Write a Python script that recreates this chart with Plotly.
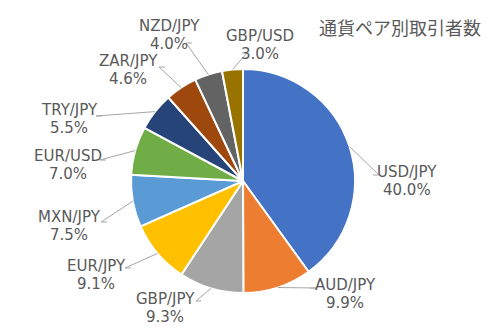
import math
import plotly.graph_objects as go

# Currency pairs and share of traders (%)
pairs = ["USD/JPY", "AUD/JPY", "GBP/JPY", "EUR/JPY", "MXN/JPY",
         "EUR/USD", "TRY/JPY", "ZAR/JPY", "NZD/JPY", "GBP/USD"]
shares = [40.0, 9.9, 9.3, 9.1, 7.5, 7.0, 5.5, 4.6, 4.0, 3.0]
colors = ["#4472C4", "#ED7D31", "#A5A5A5", "#FFC000", "#5B9BD5",
          "#70AD47", "#264478", "#9E480E", "#636363", "#997300"]
title_text = "通貨ペア別取引者数"

W, H = 486, 326
CX, CY, R = 243, 181, 112          # pie centre and radius in pixels

# Label placement (pixel centre of the two-line label) and leader end point
label_pos = [(407, 181), (345, 294), (165, 308), (96, 275), (69, 226),
             (68, 165), (69, 119), (128, 70), (169, 35), (260, 45)]
leader_end = [(373, 175), (310, 288), (201, 301), (131, 268), (107, 222),
              (106, 160), (102, 116), (165, 67), (192, 43), (242, 53)]

TEXT = "#595959"
LEADER = "#A6A6A6"
LINE_GAP = 17.5                     # distance between the two label lines


def px(x):
    return x / W


def py(y):
    return 1 - y / H


fig = go.Figure(go.Pie(
    labels=pairs,
    values=shares,
    sort=False,
    direction="clockwise",
    rotation=0,
    marker=dict(colors=colors, line=dict(color="white", width=2)),
    textinfo="none",
    hoverinfo="label+percent",
    domain=dict(x=[px(CX - R), px(CX + R)], y=[py(CY + R), py(CY - R)]),
    showlegend=False,
))

annotations = []
shapes = []
total = sum(shares)
cum = 0.0
for name, val, (lx, ly), (ex, ey) in zip(pairs, shares, label_pos, leader_end):
    mid = (cum + val / 2) / total * 2 * math.pi
    cum += val
    sx = CX + R * math.sin(mid)
    sy = CY - R * math.cos(mid)
    # short horizontal run out of the label, then a straight line to the slice
    step = 5 if abs(ex - sx) < 12 else 6
    elbow = (ex - step, ey) if ex > lx else (ex + step, ey)
    path = (f"M {px(sx)},{py(sy)} L {px(elbow[0])},{py(elbow[1])} "
            f"L {px(ex)},{py(ey)}")
    shapes.append(dict(type="path", xref="paper", yref="paper", path=path,
                       line=dict(color=LEADER, width=1)))
    for text, dy in ((name, -LINE_GAP / 2), (f"{val:.1f}%", LINE_GAP / 2)):
        annotations.append(dict(
            x=px(lx), y=py(ly + dy), xref="paper", yref="paper",
            text=text, showarrow=False,
            xanchor="center", yanchor="middle", align="center",
            font=dict(family="DejaVu Sans", size=15, color=TEXT),
        ))

annotations.append(dict(
    x=px(400), y=py(27), xref="paper", yref="paper",
    text=title_text, showarrow=False, xanchor="center", yanchor="middle",
    font=dict(family="Noto Sans CJK JP", size=18, color=TEXT),
))

fig.update_layout(
    width=W, height=H,
    margin=dict(l=0, r=0, t=0, b=0),
    paper_bgcolor="white", plot_bgcolor="white",
    annotations=annotations, shapes=shapes,
)

fig.write_html("out.html")
